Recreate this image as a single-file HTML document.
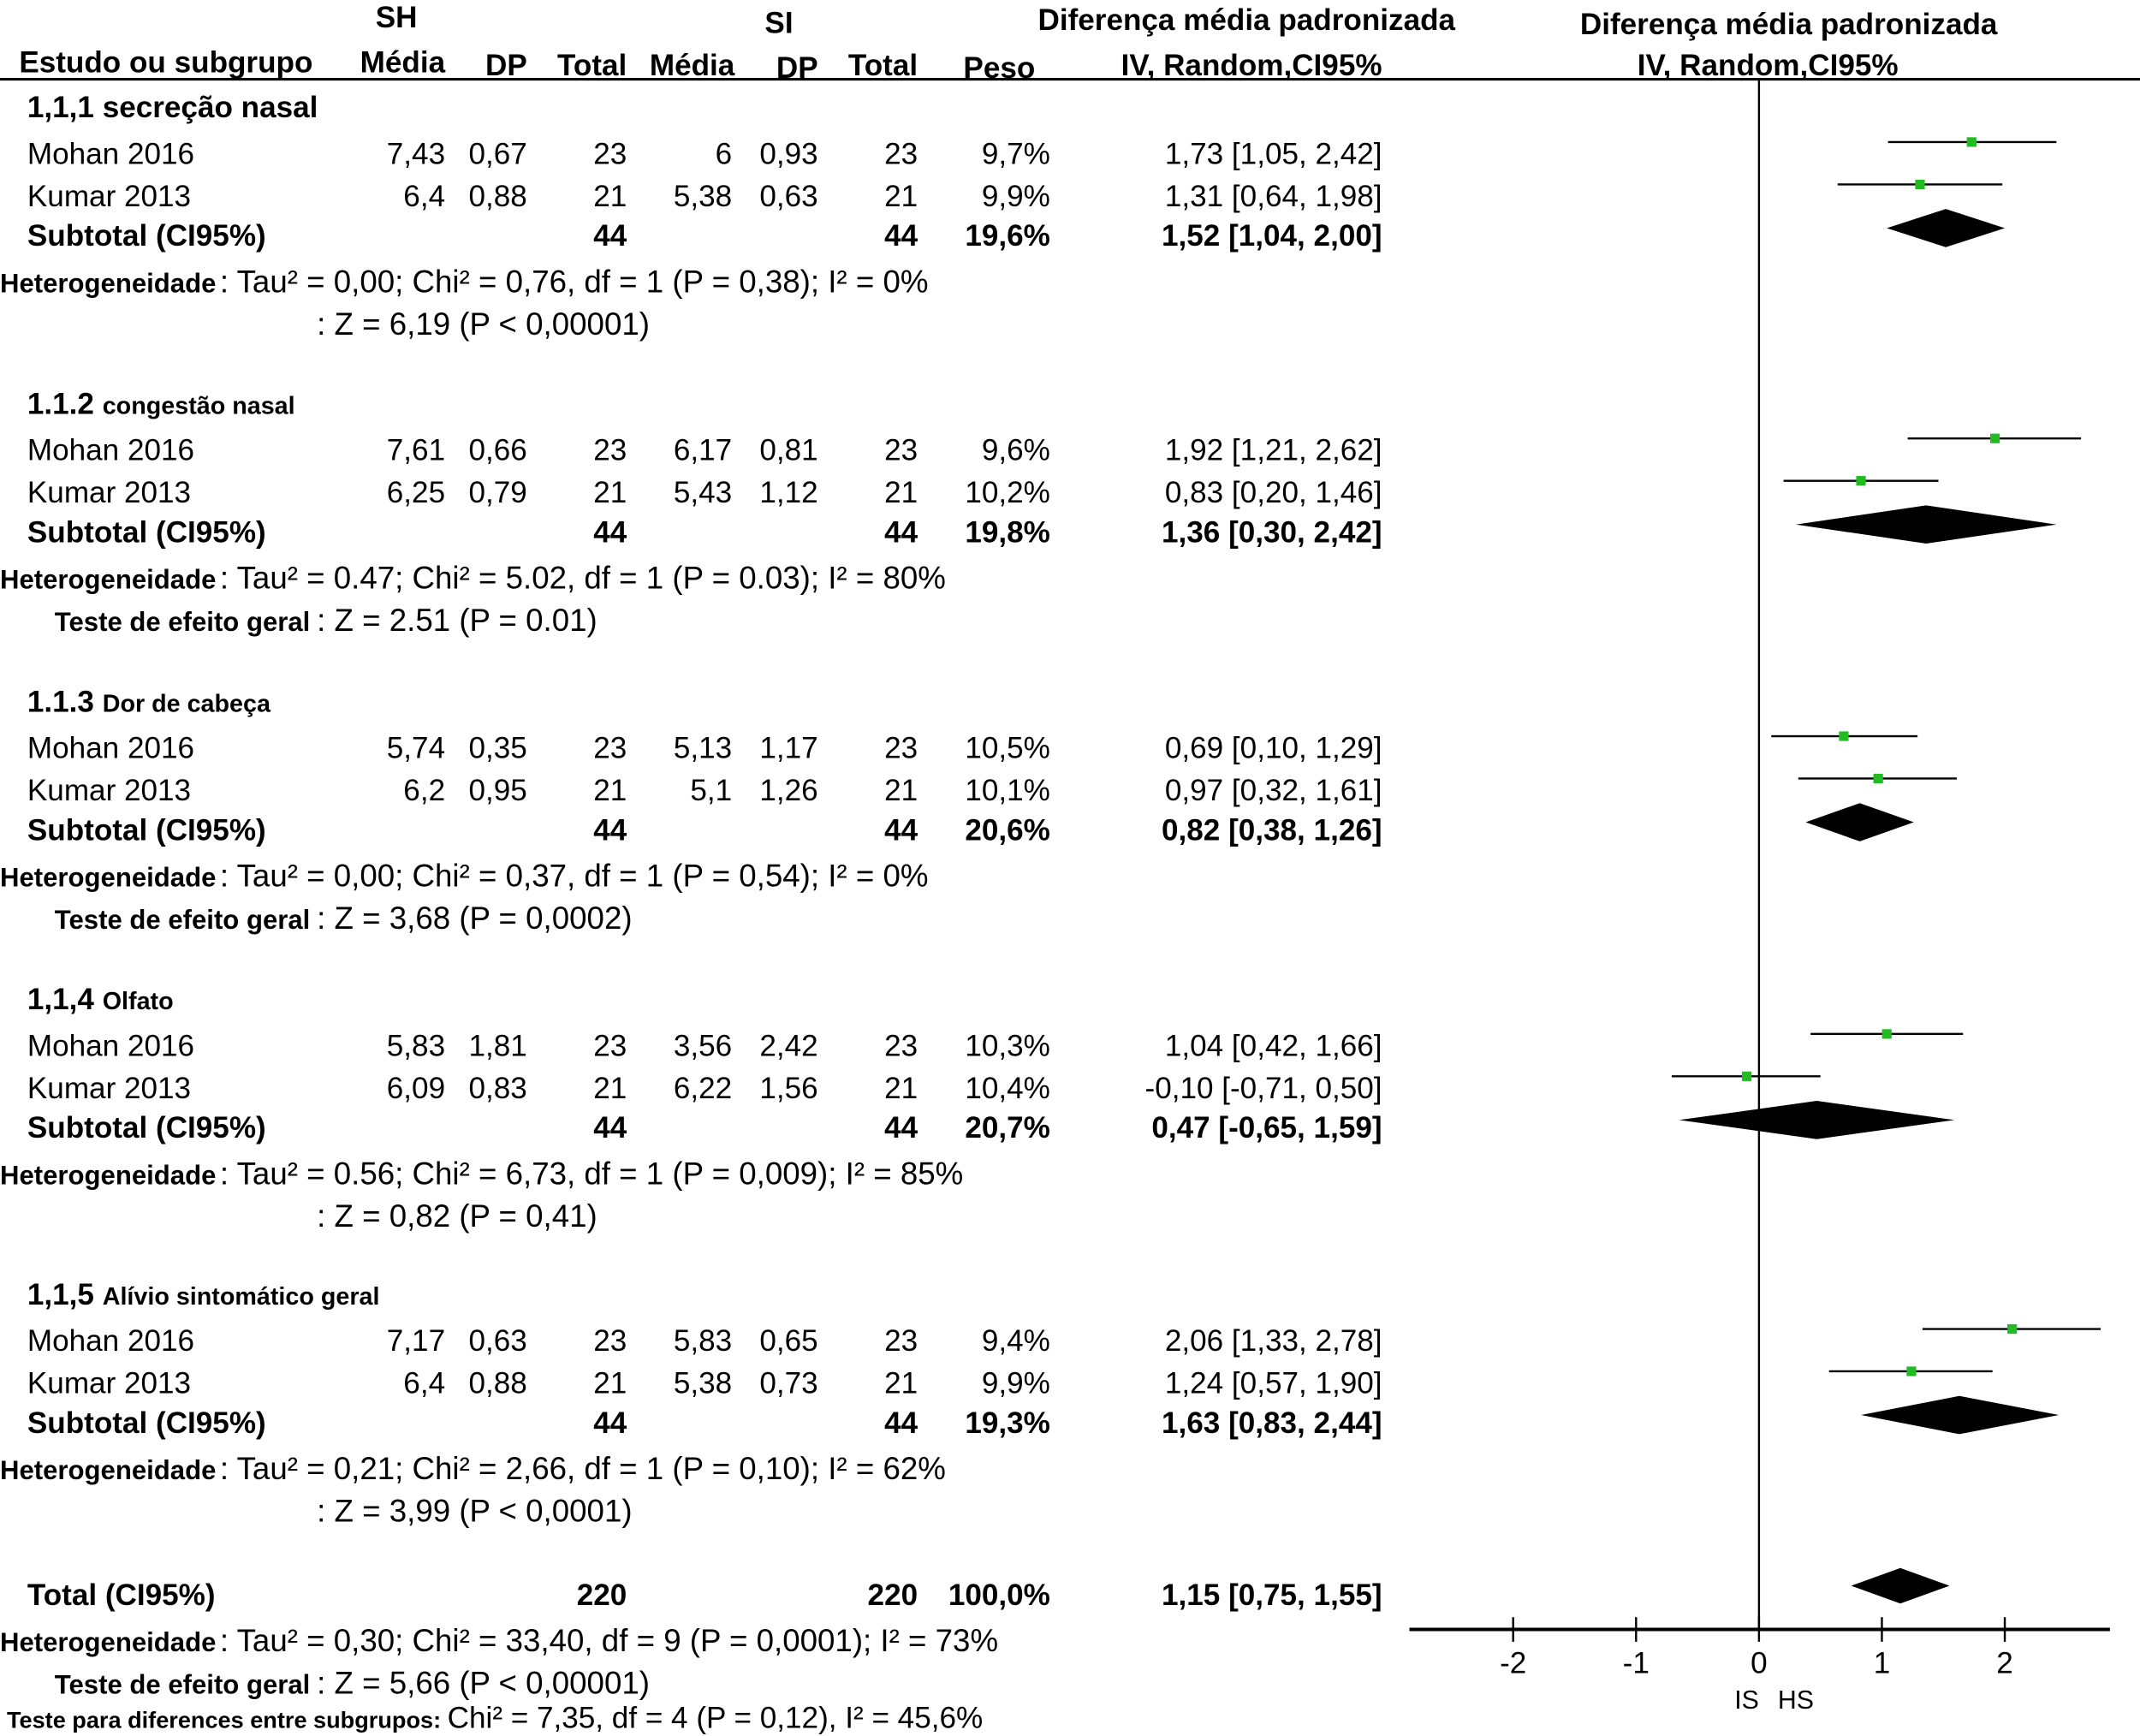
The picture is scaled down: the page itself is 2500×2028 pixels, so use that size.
<!DOCTYPE html>
<html><head><meta charset="utf-8"><style>
html,body{margin:0;padding:0;background:#fff}
svg{display:block}
text{font-family:"Liberation Sans",Arial,sans-serif;fill:#000}
.r{font-size:22px}
.st{font-size:23px}
.b{font-weight:bold}
.s{font-size:19.5px;font-weight:bold}
</style></head><body>
<svg id="plot" width="2500" height="2028" viewBox="0 0 1567 1271" preserveAspectRatio="none" xmlns="http://www.w3.org/2000/svg">
<g id="hdr">
<text x="275" y="20" class="r b">SH</text>
<text x="560" y="24" class="r b">SI</text>
<text x="760" y="22" class="r b">Diferença média padronizada</text>
<text x="1157" y="25" class="r b">Diferença média padronizada</text>
<text x="14" y="53" class="r b">Estudo ou subgrupo</text>
<text x="326" y="53" class="r b" text-anchor="end">Média</text>
<text x="386" y="55" class="r b" text-anchor="end">DP</text>
<text x="459" y="55" class="r b" text-anchor="end">Total</text>
<text x="538" y="55" class="r b" text-anchor="end">Média</text>
<text x="599" y="57" class="r b" text-anchor="end">DP</text>
<text x="672" y="55" class="r b" text-anchor="end">Total</text>
<text x="758" y="57" class="r b" text-anchor="end">Peso</text>
<text x="1012" y="55" class="r b" text-anchor="end">IV, Random,CI95%</text>
<text x="1390" y="55" class="r b" text-anchor="end">IV, Random,CI95%</text>
<line x1="0" y1="58" x2="1567" y2="58" stroke="#000" stroke-width="2"/>
</g>
<g id="table"></g>
<g id="marks"></g>
<g id="axis"></g>
</svg>
<script>
const groupTitles=["1,1,1 secreção nasal","1.1.2 congestão nasal","1.1.3 Dor de cabeça","1,1,4 Olfato","1,1,5 Alívio sintomático geral"];
const studies=["Mohan 2016","Kumar 2013"];
const shMean=[["7,43","6,4"],["7,61","6,25"],["5,74","6,2"],["5,83","6,09"],["7,17","6,4"]];
const shSD=[["0,67","0,88"],["0,66","0,79"],["0,35","0,95"],["1,81","0,83"],["0,63","0,88"]];
const shN=[["23","21"],["23","21"],["23","21"],["23","21"],["23","21"]];
const siMean=[["6","5,38"],["6,17","5,43"],["5,13","5,1"],["3,56","6,22"],["5,83","5,38"]];
const siSD=[["0,93","0,63"],["0,81","1,12"],["1,17","1,26"],["2,42","1,56"],["0,65","0,73"]];
const weights=[["9,7%","9,9%"],["9,6%","10,2%"],["10,5%","10,1%"],["10,3%","10,4%"],["9,4%","9,9%"]];
const subWeights=["19,6%","19,8%","20,6%","20,7%","19,3%"];
const studyEst=[[1.73,1.31],[1.92,0.83],[0.69,0.97],[1.04,-0.10],[2.06,1.24]];
const studyLo=[[1.05,0.64],[1.21,0.20],[0.10,0.32],[0.42,-0.71],[1.33,0.57]];
const studyHi=[[2.42,1.98],[2.62,1.46],[1.29,1.61],[1.66,0.50],[2.78,1.90]];
const subEst=[1.52,1.36,0.82,0.47,1.63];
const subLo=[1.04,0.30,0.38,-0.65,0.83];
const subHi=[2.00,2.42,1.26,1.59,2.44];
const hetText=["Tau² = 0,00; Chi² = 0,76, df = 1 (P = 0,38); I² = 0%","Tau² = 0.47; Chi² = 5.02, df = 1 (P = 0.03); I² = 80%","Tau² = 0,00; Chi² = 0,37, df = 1 (P = 0,54); I² = 0%","Tau² = 0.56; Chi² = 6,73, df = 1 (P = 0,009); I² = 85%","Tau² = 0,21; Chi² = 2,66, df = 1 (P = 0,10); I² = 62%"];
const zText=["Z = 6,19 (P < 0,00001)","Z = 2.51 (P = 0.01)","Z = 3,68 (P = 0,0002)","Z = 0,82 (P = 0,41)","Z = 3,99 (P < 0,0001)"];
const zLabel=["","Teste de efeito geral","Teste de efeito geral","",""];
const totalEst=1.15, totalLo=0.75, totalHi=1.55;
const ticks=[-2,-1,0,1,2];
const groupY=[79,296,514,732,948];

const NS="http://www.w3.org/2000/svg";
const X0=1288, UNIT=90;
function xs(v){return X0+v*UNIT;}
function fmt(v){return v.toFixed(2).replace('.',',');}
function mk(parent,tag,attrs,txt){const e=document.createElementNS(NS,tag);for(const k in attrs)e.setAttribute(k,attrs[k]);if(txt!==undefined)e.textContent=txt;parent.appendChild(e);return e;}
const T=document.getElementById('table'), M=document.getElementById('marks'), A=document.getElementById('axis');
function txt(x,y,s,cls,anchor,name){const e=mk(T,'text',{x:x,y:y,class:cls,'text-anchor':anchor||'start'},s);

return e;}

for(let g=0;g<5;g++){
  const b=groupY[g];
  const parts=groupTitles[g].split(' ');const code=parts.shift();
  const h=mk(T,'text',{x:20,y:b+7,class:'r b'});
  
  
  mk(h,'tspan',{},code+' ');mk(h,'tspan',{'font-size':g===0?22:18},parts.join(' '));
  for(let i=0;i<2;i++){
    const y=b+33+i*31+8;
    txt(20,y,studies[i],'r','start','study-name');
    txt(326,y,shMean[g][i],'r','end','sh-mean');
    txt(386,y,shSD[g][i],'r','end','sh-sd');
    txt(459,y,shN[g][i],'r','end','sh-total');
    txt(536,y,siMean[g][i],'r','end','si-mean');
    txt(599,y,siSD[g][i],'r','end','si-sd');
    txt(672,y,shN[g][i],'r','end','si-total');
    txt(769,y,weights[g][i],'r','end','weight');
    txt(1012,y,fmt(studyEst[g][i])+' ['+fmt(studyLo[g][i])+', '+fmt(studyHi[g][i])+']','r','end','effect-ci');
    const ly=b+25+i*31;
    const l=mk(M,'line',{x1:xs(studyLo[g][i]),x2:xs(studyHi[g][i]),y1:ly,y2:ly,stroke:'#000','stroke-width':1.5});
    
    
    const sq=mk(M,'rect',{x:xs(studyEst[g][i])-3.5,y:ly-3.5,width:7,height:7,fill:'#22bb22'});
    
    
  }
  const sy=b+101;
  txt(20,sy,'Subtotal (CI95%)','r b','start','subtotal-label');
  txt(459,sy,'44','r b','end','subtotal-sh');
  txt(672,sy,'44','r b','end','subtotal-si');
  txt(769,sy,subWeights[g],'r b','end','subtotal-weight');
  txt(1012,sy,fmt(subEst[g])+' ['+fmt(subLo[g])+', '+fmt(subHi[g])+']','r b','end','subtotal-ci');
  const dy=b+88;
  const d=mk(M,'polygon',{points:xs(subLo[g])+','+dy+' '+xs(subEst[g])+','+(dy-14)+' '+xs(subHi[g])+','+dy+' '+xs(subEst[g])+','+(dy+14),fill:'#000'});
  
  
  const hy=b+135;
  txt(0,hy,'Heterogeneidade','s','start','heterogeneity-label');
  txt(161,hy,': '+hetText[g],'st','start','heterogeneity-stats');
  const zy=b+166;
  if(zLabel[g]) txt(40,zy,zLabel[g],'s','start','overall-effect-label');
  txt(232,zy,': '+zText[g],'st','start','overall-effect-stats');
}
txt(20,1175,'Total (CI95%)','r b','start','total-label');
txt(459,1175,'220','r b','end','total-sh');
txt(672,1175,'220','r b','end','total-si');
txt(769,1175,'100,0%','r b','end','total-weight');
txt(1012,1175,fmt(totalEst)+' ['+fmt(totalLo)+', '+fmt(totalHi)+']','r b','end','total-ci');
txt(0,1209,'Heterogeneidade','s','start','total-heterogeneity-label');
txt(161,1209,': Tau² = 0,30; Chi² = 33,40, df = 9 (P = 0,0001); I² = 73%','st','start','total-heterogeneity-stats');
txt(40,1240,'Teste de efeito geral','s','start','total-effect-label');
txt(232,1240,': Z = 5,66 (P < 0,00001)','st','start','total-effect-stats');
const st=txt(5,1265,'','s','start','subgroup-difference-test');
mk(st,'tspan',{'font-size':17},'Teste para diferences entre subgrupos: ');
mk(st,'tspan',{'font-size':22,'font-weight':'normal'},'Chi² = 7,35, df = 4 (P = 0,12), I² = 45,6%');

const td=mk(M,'polygon',{points:xs(totalLo)+',1161 '+xs(totalEst)+',1148 '+xs(totalHi)+',1161 '+xs(totalEst)+',1174',fill:'#000'});



const zl=mk(A,'line',{x1:xs(0),x2:xs(0),y1:58,y2:1193,stroke:'#000','stroke-width':1.5});


const al=mk(A,'line',{x1:1032,x2:1545,y1:1193,y2:1193,stroke:'#000','stroke-width':2.5});


ticks.forEach(t=>{
  const tk=mk(A,'line',{x1:xs(t),x2:xs(t),y1:1184,y2:1202,stroke:'#000','stroke-width':1.5});
  
  
  const tl=mk(A,'text',{x:xs(t),y:1225,class:'r','text-anchor':'middle'},String(t));
  
  
});
const l1=mk(A,'text',{x:xs(-0.1),y:1251,'font-size':19,'text-anchor':'middle'},'IS');


const l2=mk(A,'text',{x:xs(0.3),y:1251,'font-size':19,'text-anchor':'middle'},'HS');


</script>
</body></html>
